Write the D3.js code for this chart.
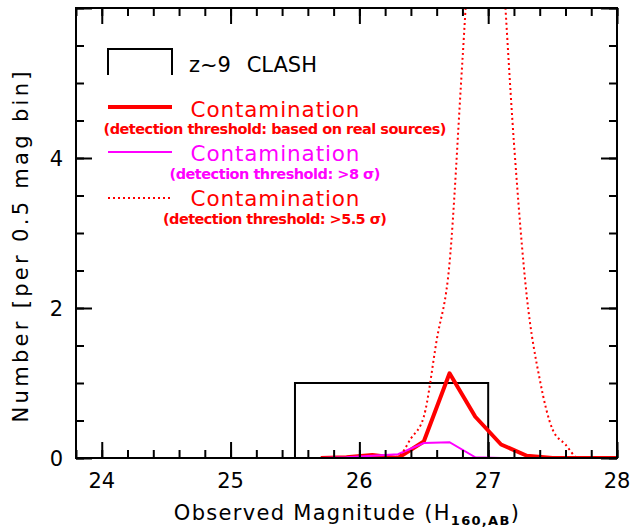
<!DOCTYPE html>
<html>
<head>
<meta charset="utf-8">
<script src="https://cdn.jsdelivr.net/npm/d3@7"></script>
<style>
  body { margin: 0; background: #fff; }
  text { font-family: "DejaVu Sans", sans-serif; }
</style>
</head>
<body>
<div id="chart"></div>
<script>
// bins of 0.2 mag (contamination, real-source threshold and >8 sigma)
const binMag = [25.7, 25.9, 26.1, 26.3, 26.5, 26.7, 26.9, 27.1, 27.3, 27.5, 27.7, 27.9, 28.1];
const contamReal = [0, 0.01, 0.04, 0, 0.22, 1.13, 0.55, 0.18, 0.03, 0, 0, 0, 0];
const contam8 = [0, 0.01, 0.03, 0.05, 0.2, 0.21, 0.01, 0, 0, 0, 0, 0, 0];

// >5.5 sigma curve (goes far above the plot top)
const fineMag = [25.7, 25.8, 25.9, 26.0, 26.1, 26.2, 26.3, 26.4, 26.5, 26.6, 26.7, 26.8,
                 26.9, 27.0, 27.1, 27.2, 27.3, 27.4, 27.5, 27.6, 27.7, 27.8, 27.9, 28.0];
const contam55 = [0, 0, 0, 0, 0, 0, 0.02, 0.26, 0.55, 1.57, 2.6, 5.3,
                  8.0, 9.0, 6.9, 4.2, 2.15, 1.05, 0.38, 0.18, 0, 0, 0, 0];

// z~9 CLASH histogram box
const clashEdges = [25.5, 27.0];
const clashCount = [1];

const xMajor = [24, 25, 26, 27, 28];
const yMajor = [0, 2, 4];

const W = 632, H = 527;
const m = { left: 76, right: 617, top: 8, bottom: 458 };

const svg = d3.select("#chart").append("svg")
    .attr("width", W).attr("height", H);

const x = d3.scaleLinear().domain([23.8, 28]).range([m.left, m.right]);
const y = d3.scaleLinear().domain([0, 6]).range([m.bottom, m.top]);

svg.append("clipPath").attr("id", "clip")
  .append("rect")
    .attr("x", m.left).attr("y", m.top)
    .attr("width", m.right - m.left).attr("height", m.bottom - m.top);

const plot = svg.append("g").attr("clip-path", "url(#clip)");

// box
const boxPts = [[clashEdges[0], 0], [clashEdges[0], clashCount[0]],
                [clashEdges[1], clashCount[0]], [clashEdges[1], 0]];
plot.append("path")
    .attr("d", d3.line().x(d => x(d[0])).y(d => y(d[1]))(boxPts))
    .attr("fill", "none").attr("stroke", "#000").attr("stroke-width", 2);

const line = d3.line().x(d => x(d[0])).y(d => y(d[1]));

plot.append("path")
    .attr("d", line(binMag.map((v, i) => [v, contamReal[i]])))
    .attr("fill", "none").attr("stroke", "#ff0000").attr("stroke-width", 4)
    .attr("stroke-linejoin", "round");

plot.append("path")
    .attr("d", line(binMag.map((v, i) => [v, contam8[i]])))
    .attr("fill", "none").attr("stroke", "#ff00ff").attr("stroke-width", 2);

plot.append("path")
    .attr("d", line.curve(d3.curveMonotoneX)(fineMag.map((v, i) => [v, contam55[i]])))
    .attr("fill", "none").attr("stroke", "#ff0000").attr("stroke-width", 2)
    .attr("stroke-dasharray", "2,3");

// axes, ticks pointing inward on all four sides
const xMinor = d3.range(23.8, 28.01, 0.2);
const yMinor = d3.range(0, 6.01, 0.5);

function ticks(axis, pos, vals, size) {
  svg.append("g")
      .attr("transform", pos)
      .call(axis.tickValues(vals).tickSize(size).tickFormat(""))
      .call(g => g.select(".domain").remove())
      .selectAll("line").attr("stroke", "#000").attr("stroke-width", 2);
}
ticks(d3.axisTop(x), `translate(0,${m.bottom})`, xMinor, 8);
ticks(d3.axisTop(x), `translate(0,${m.bottom})`, xMajor, 16);
ticks(d3.axisBottom(x), `translate(0,${m.top})`, xMinor, 8);
ticks(d3.axisBottom(x), `translate(0,${m.top})`, xMajor, 16);
ticks(d3.axisRight(y), `translate(${m.left},0)`, yMinor, 8);
ticks(d3.axisRight(y), `translate(${m.left},0)`, yMajor.concat([6]), 16);
ticks(d3.axisLeft(y), `translate(${m.right},0)`, yMinor, 8);
ticks(d3.axisLeft(y), `translate(${m.right},0)`, yMajor.concat([6]), 16);

svg.append("rect")
    .attr("x", m.left).attr("y", m.top)
    .attr("width", m.right - m.left).attr("height", m.bottom - m.top)
    .attr("fill", "none").attr("stroke", "#000").attr("stroke-width", 2);

// tick labels
svg.selectAll(".xl").data(xMajor).enter().append("text")
    .attr("x", d => x(d)).attr("y", 488)
    .attr("text-anchor", "middle").attr("font-size", 21)
    .text(d => d);

svg.selectAll(".yl").data(yMajor).enter().append("text")
    .attr("x", 63).attr("y", d => y(d) + 8)
    .attr("text-anchor", "end").attr("font-size", 21)
    .text(d => d);

// axis titles
const xt = svg.append("text")
    .attr("x", 347).attr("y", 520)
    .attr("text-anchor", "middle").attr("font-size", 21)
    .attr("letter-spacing", 1.3);
xt.append("tspan").text("Observed Magnitude (H");
xt.append("tspan").attr("font-size", 13).attr("font-weight", "bold").attr("dy", 5).text("160,AB");
xt.append("tspan").attr("dy", -5).text(")");

svg.append("text")
    .attr("transform", "translate(28,247) rotate(-90)")
    .attr("text-anchor", "middle").attr("font-size", 21)
    .attr("textLength", 351).attr("lengthAdjust", "spacing")
    .text("Number [per 0.5 mag bin]");

// legend
const lg = svg.append("g");
lg.append("path").attr("d", "M108,75V49H172V75")
    .attr("fill", "none").attr("stroke", "#000").attr("stroke-width", 2);
lg.append("text").attr("x", 189).attr("y", 72).attr("font-size", 21)
    .attr("word-spacing", 9).text("z~9 CLASH");

const entries = [
  { color: "#ff0000", width: 4, dash: null, ly: 107, ty: 117, sy: 134, sub: "(detection threshold: based on real sources)", sw: 343 },
  { color: "#ff00ff", width: 2, dash: null, ly: 152, ty: 161, sy: 179, sub: "(detection threshold: >8 σ)", sw: 211 },
  { color: "#ff0000", width: 2, dash: "2,3", ly: 198, ty: 206, sy: 224, sub: "(detection threshold: >5.5 σ)", sw: 224 }
];
entries.forEach(e => {
  lg.append("line").attr("x1", 108).attr("x2", 172).attr("y1", e.ly).attr("y2", e.ly)
      .attr("stroke", e.color).attr("stroke-width", e.width)
      .attr("stroke-dasharray", e.dash);
  lg.append("text").attr("x", 275).attr("y", e.ty).attr("text-anchor", "middle")
      .attr("font-size", 21.5).attr("fill", e.color)
      .attr("textLength", 169).attr("lengthAdjust", "spacing")
      .text("Contamination");
  lg.append("text").attr("x", 275).attr("y", e.sy).attr("text-anchor", "middle")
      .attr("font-size", 14.5).attr("font-weight", "bold").attr("fill", e.color)
      .attr("textLength", e.sw).attr("lengthAdjust", "spacing")
      .text(e.sub);
});
</script>
</body>
</html>
